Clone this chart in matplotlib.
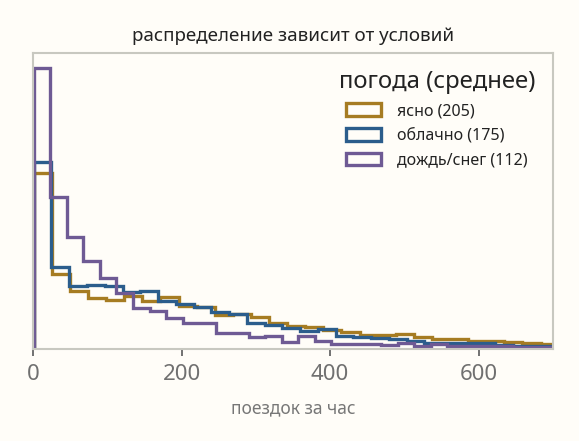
import numpy as np
import matplotlib
matplotlib.use("Agg")
import matplotlib.pyplot as plt
from matplotlib.patches import Patch

plt.rcParams['font.family'] = ['Noto Sans', 'DejaVu Sans']

# --- data (relative heights) ---
series_names = ["ясно (205)", "облачно (175)", "дождь/снег (112)"]
bin_start = [1.0, 1.0, 1.0]
bin_width = [24.37, 23.9, 22.27]

clear_vals = [176.3, 74.7, 57.8, 50.8, 49.5, 52.6, 48.5, 51.7, 43.5, 42.5,
              33.8, 35.0, 32.2, 25.6, 22.6, 22.4, 19.0, 17.3, 14.5, 14.0,
              14.7, 12.0, 10.5, 9.7, 8.0, 7.8, 6.8, 5.7, 5.5]
cloudy_vals = [187.0, 82.3, 63.3, 64.3, 63.3, 57.3, 58.5, 48.3, 45.3, 42.5,
               37.0, 34.8, 26.3, 24.0, 21.3, 18.3, 19.7, 13.0, 11.7, 10.7,
               9.7, 8.3, 6.3, 6.3, 5.7, 5.7, 4.0, 3.3, 3.3, 3.3]
rain_vals = [281.3, 152.3, 112.3, 88.3, 71.5, 56.0, 41.5, 38.0, 31.5, 26.3,
             26.3, 16.5, 16.5, 12.0, 13.0, 7.3, 13.0, 8.3, 5.0, 5.0,
             5.0, 4.0, 6.3, 3.3, 5.5, 3.5, 3.0, 3.5, 3.0, 2.5, 2.5, 2.0]

x_ticks = [0, 200, 400, 600]
colors = ["#a67c22", "#2b5d8c", "#6e5a94"]

bg = "#fffdf8"
fig = plt.figure(figsize=(5.79, 4.41), dpi=100, facecolor=bg)
ax = fig.add_axes([0.057, 0.2086, 0.898, 0.6712], facecolor=bg)

for vals, s, w, c in zip([clear_vals, cloudy_vals, rain_vals], bin_start, bin_width, colors):
    edges = s + w * np.arange(len(vals) + 1)
    ax.stairs(vals, edges, baseline=0, fill=False, color=c, lw=2.4)

ax.set_xlim(0, 700)
ax.set_ylim(0, 296)
ax.set_yticks([])
ax.set_xticks(x_ticks)
ax.tick_params(axis='x', length=5, width=1.3, color='#666666', labelsize=16,
               labelcolor='#707070', pad=6)
for sp in ax.spines.values():
    sp.set_color('#c8c8c0')
    sp.set_linewidth(1.5)

ax.set_xlabel("поездок за час", fontsize=12.5, color='#777777', labelpad=10)
ax.set_title("распределение зависит от условий", fontsize=13.5, color='#222222', pad=9)

handles = [Patch(facecolor='none', edgecolor=c, lw=2.4) for c in colors]
leg = ax.legend(handles, series_names, title="погода (среднее)", loc='upper right',
                bbox_to_anchor=(0.99, 0.985),
                frameon=False, fontsize=11.5, title_fontsize=17.2, alignment='center',
                handlelength=2.25, handleheight=0.85, handletextpad=1.0,
                labelspacing=0.55, borderaxespad=0.4)
leg.get_title().set_color('#222222')
for t in leg.get_texts():
    t.set_color('#222222')

fig.savefig("out.png", dpi=100, facecolor=bg)
